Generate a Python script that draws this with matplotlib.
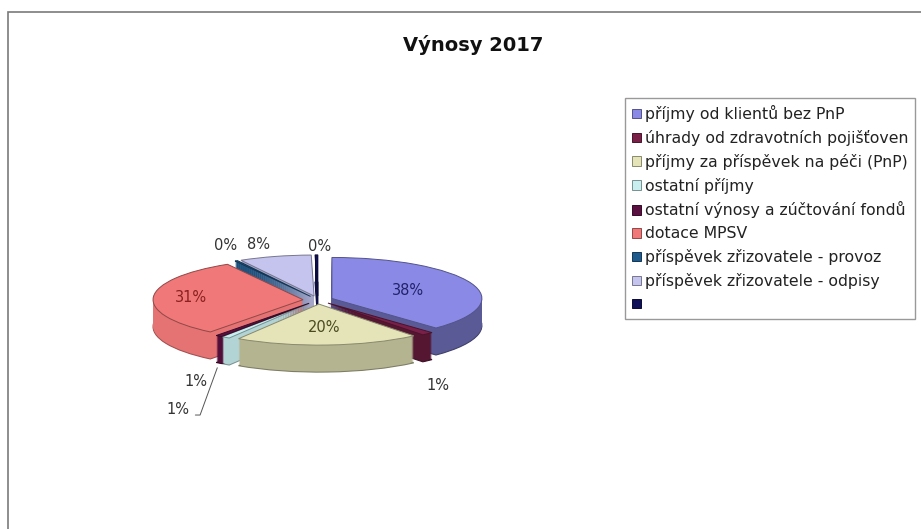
import numpy as np
import matplotlib
matplotlib.use("Agg")
import matplotlib.pyplot as plt
from matplotlib.colors import to_rgb
from matplotlib.patches import Rectangle

plt.rcParams["font.family"] = ["DejaVu Sans"]

# data
title = "Výnosy 2017"
categories = [
    "příjmy od klientů bez PnP",
    "úhrady od zdravotních pojišťoven",
    "příjmy za příspěvek na péči (PnP)",
    "ostatní příjmy",
    "ostatní výnosy a zúčtování fondů",
    "dotace MPSV",
    "příspěvek zřizovatele - provoz",
    "příspěvek zřizovatele - odpisy",
    "",
]
values = [37.8, 1.3, 19.9, 0.9, 0.7, 31.0, 0.3, 7.8, 0.3]
colors = ["#8a8ae6", "#7a2048", "#e4e4b8", "#c8eef0", "#5a1040",
          "#f07878", "#1f5a8c", "#c4c4ee", "#101058"]

# style
W, H = 921, 529
cx, cy = 318, 300      # pie centre in pixels (from top)
rx, ry = 150, 41       # ellipse radii in pixels
depth = 27             # thickness of the 3d pie in pixels
explode = [0.1] * len(values)

def darker(c, f=0.55):
    r, g, b = to_rgb(c)
    return (r * f, g * f, b * f)

fig = plt.figure(figsize=(W / 100, H / 100), dpi=100)
fig.patch.set_facecolor("white")

# chart border (cut by the image edge on the right/bottom)
fig.add_artist(Rectangle((8 / W, -0.1), 2, 1 - 12 / H + 0.1, transform=fig.transFigure,
                         fill=False, edgecolor="#7a7a7a", lw=1.2))

fig.text(473 / W, 1 - 45 / H, title, ha="center", va="center",
         fontsize=14, fontweight="bold", color="#111111")

ax = fig.add_axes([(cx - 200) / W, 1 - (cy + 100) / H, 400 / W, 200 / H])

# side shading: darker on the right, lighter on the left
frac = np.cumsum([0] + values[:-1]) + np.array(values) / 2
mid = np.deg2rad(90 - frac / sum(values) * 360)
side_colors = [darker(c, 0.8 - 0.16 * np.cos(a)) for c, a in zip(colors, mid)]

# side walls: stack shaded copies of the pie downwards
n = depth
d = depth / ry
for k in range(n, 0, -1):
    sw, _ = ax.pie(values, explode=explode, colors=side_colors, startangle=90,
                   counterclock=False, center=(0, -k * d / n),
                   wedgeprops=dict(linewidth=0))
    if k == n:
        for w, c in zip(sw, side_colors):
            w.set_edgecolor(darker(c, 0.7))
            w.set_linewidth(0.8)

# top face
wedges, _ = ax.pie(values, explode=explode, colors=colors, startangle=90,
                   counterclock=False, wedgeprops=dict(linewidth=0.7))
for w, c in zip(wedges, colors):
    w.set_edgecolor(darker(c, 0.6))

ax.set_aspect("auto")
ax.set_xlim(-200 / rx, 200 / rx)
ax.set_ylim(-100 / ry, 100 / ry)
ax.axis("off")

# labels
label_r = [0.55, 1.1, 0.56, 1.1, 1.1, 0.75, 1.1, 1.1, 1.1]
label_off = [(0, 0), (0, -22), (0, 0), (-39, -42), (-14, -15), (0, 0),
             (-3, 12), (-13, 8), (3, 4)]
label_col = ["#22226a", "#333333", "#4a4a20", "#333333", "#333333",
             "#8a2020", "#333333", "#333333", "#333333"]
total = sum(values)
for i, w in enumerate(wedges):
    th = np.deg2rad((w.theta1 + w.theta2) / 2)
    ex, ey = w.center
    x = ex + label_r[i] * np.cos(th)
    y = ey + label_r[i] * np.sin(th)
    if label_r[i] > 1 and np.sin(th) < 0:
        y -= d
    txt = "%.0f%%" % (values[i] / total * 100)
    arrow = None
    if i == 3:
        arrow = dict(arrowstyle="-", color="#555555", lw=0.7, relpos=(1, 0.15),
                     connectionstyle="angle,angleA=0,angleB=70,rad=0",
                     shrinkA=2, shrinkB=0)
    ax.annotate(txt, xy=(x, y), xytext=label_off[i], textcoords="offset pixels",
                ha="center", va="center", fontsize=10.5, color=label_col[i],
                arrowprops=arrow, annotation_clip=False)

leg = fig.legend(wedges, categories, loc="upper left",
                 bbox_to_anchor=(625 / W, 1 - 98 / H), frameon=True, fancybox=False,
                 fontsize=11.3, handlelength=0.55, handleheight=0.55, handletextpad=0.25,
                 labelspacing=0.5, borderpad=0.45, borderaxespad=0)
leg.get_frame().set_edgecolor("#808080")
leg.get_frame().set_linewidth(1.0)
for t in leg.get_texts():
    t.set_color("#222222")

fig.savefig("out.png", dpi=100)
